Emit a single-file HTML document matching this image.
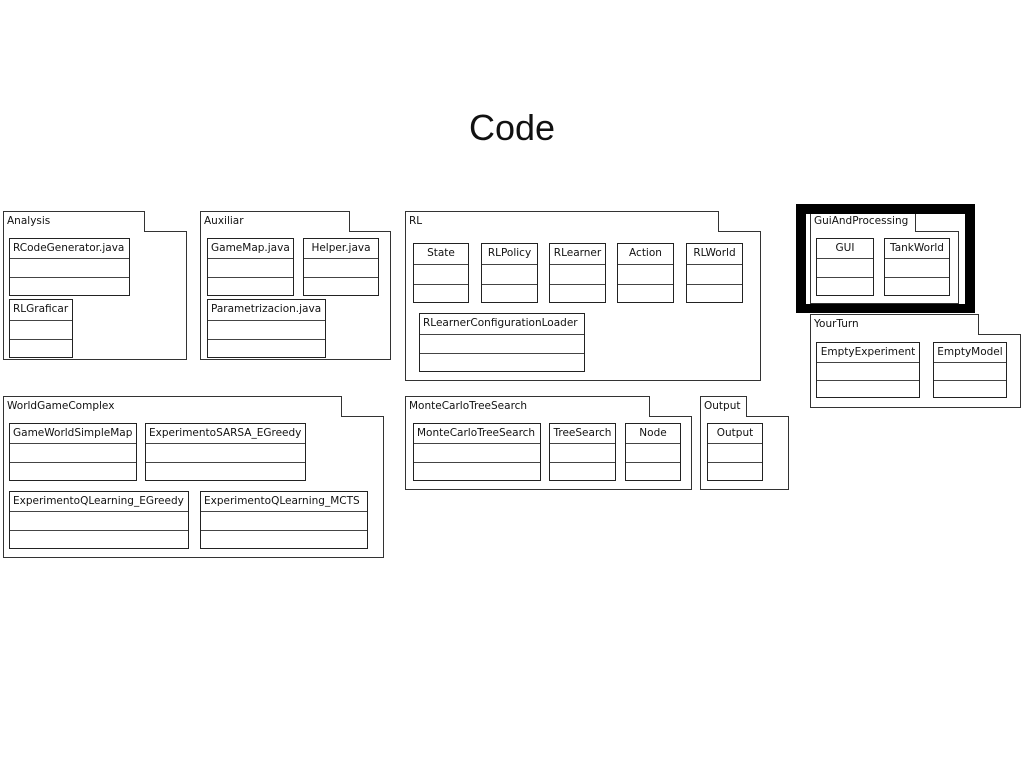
<!DOCTYPE html>
<html><head><meta charset="utf-8"><style>
body{margin:0;width:1024px;height:768px;background:#fff;position:relative;overflow:hidden;font-family:"DejaVu Sans","Liberation Sans",sans-serif;}
.a{position:absolute;box-sizing:border-box;}
.tab,.body{border:1px solid #333;background:#fff;}
.tab{border-bottom:none;font-size:10.5px;padding:1px 3px;line-height:16px;color:#111}
.c{position:absolute;box-sizing:border-box;border:1px solid #222;background:#fff;font-size:10.5px;color:#111}
.c div{box-sizing:border-box;border-bottom:1px solid #444}
.c div:last-child{border-bottom:none}
.h{padding:0 3px;line-height:18px;white-space:nowrap;overflow:hidden}
.ctr .h{text-align:center}
.title{position:absolute;left:0;width:1024px;top:107px;text-align:center;font-size:36px;font-family:"Liberation Sans",sans-serif;font-weight:300;color:#111}
</style></head><body>
<div class="title">Code</div>
<div id="d"></div>
<script>
var out='';
function pkg(name,tx1,ty,tx2,bx2,by2){
 out+='<div class="a body" style="left:'+tx1+'px;top:'+(ty+20)+'px;width:'+(bx2-tx1)+'px;height:'+(by2-ty-20)+'px"></div>';
 out+='<div class="a tab" style="left:'+tx1+'px;top:'+ty+'px;width:'+(tx2-tx1)+'px;height:21px">'+name+'</div>';
}
function cls(name,x1,y1,x2,y2,ctr){
 var h=y2-y1, r1=Math.round(h*0.35), r2=Math.round((h-r1)/2);
 out+='<div class="c'+(ctr?' ctr':'')+'" style="left:'+x1+'px;top:'+y1+'px;width:'+(x2-x1)+'px;height:'+h+'px"><div class="h" style="height:'+r1+'px;line-height:'+(r1-2)+'px">'+name+'</div><div style="height:'+r2+'px"></div><div></div></div>';
}
pkg('Analysis',3,211,145,187,360);
cls('RCodeGenerator.java',9,238,130,296);
cls('RLGraficar',9,299,73,358);
pkg('Auxiliar',200,211,350,391,360);
cls('GameMap.java',207,238,294,296);
cls('Helper.java',303,238,379,296,1);
cls('Parametrizacion.java',207,299,326,358);
pkg('RL',405,211,719,761,381);
cls('State',413,243,469,303,1);
cls('RLPolicy',481,243,538,303,1);
cls('RLearner',549,243,606,303,1);
cls('Action',617,243,674,303,1);
cls('RLWorld',686,243,743,303,1);
cls('RLearnerConfigurationLoader',419,313,585,372);
pkg('GuiAndProcessing',810,211,916,959,304);
cls('GUI',816,238,874,296,1);
cls('TankWorld',884,238,950,296,1);
pkg('YourTurn',810,314,979,1021,408);
cls('EmptyExperiment',816,342,920,398,1);
cls('EmptyModel',933,342,1007,398,1);
pkg('WorldGameComplex',3,396,342,384,558);
cls('GameWorldSimpleMap',9,423,137,481);
cls('ExperimentoSARSA_EGreedy',145,423,306,481);
cls('ExperimentoQLearning_EGreedy',9,491,189,549);
cls('ExperimentoQLearning_MCTS',200,491,368,549);
pkg('MonteCarloTreeSearch',405,396,650,692,490);
cls('MonteCarloTreeSearch',413,423,541,481);
cls('TreeSearch',549,423,616,481,1);
cls('Node',625,423,681,481,1);
pkg('Output',700,396,747,789,490);
cls('Output',707,423,763,481,1);
out+='<div class="a" style="left:796px;top:204px;width:179px;height:109px;border:10px solid #000;border-bottom-width:9px"></div>';
document.getElementById('d').innerHTML=out;
</script>
</body></html>
